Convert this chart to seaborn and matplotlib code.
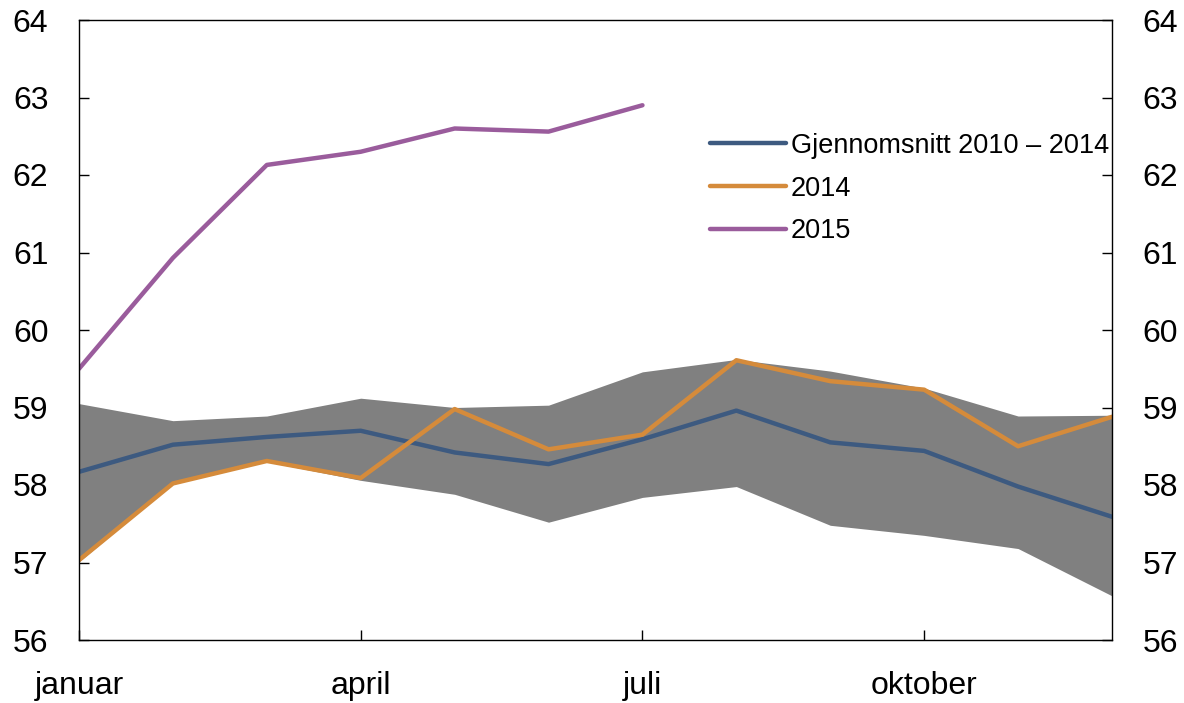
import numpy as np
import pandas as pd
import seaborn as sns
import matplotlib.pyplot as plt

months = np.arange(1, 13)
month_ticks = [1, 4, 7, 10]
month_labels = ['januar', 'april', 'juli', 'oktober']

# average 2010-2014 and the min/max band
avg_10_14 = [58.17, 58.52, 58.62, 58.70, 58.42, 58.27, 58.59, 58.96, 58.55, 58.44, 57.98, 57.59]
band_high = [59.05, 58.83, 58.89, 59.12, 59.00, 59.03, 59.46, 59.62, 59.47, 59.25, 58.89, 58.90]
band_low = [57.01, 58.02, 58.30, 58.06, 57.88, 57.52, 57.84, 57.98, 57.48, 57.35, 57.18, 56.57]
y2014 = [57.03, 58.02, 58.31, 58.09, 58.98, 58.46, 58.65, 59.61, 59.34, 59.23, 58.50, 58.88]
y2015 = [59.50, 60.93, 62.13, 62.30, 62.60, 62.56, 62.90]

sns.set_style('white')
plt.rcParams['font.family'] = ['Liberation Sans', 'DejaVu Sans']
plt.rcParams.update({'text.color': 'black', 'xtick.color': 'black',
                     'ytick.color': 'black', 'axes.edgecolor': 'black'})

fig = plt.figure(figsize=(11.84, 7.03), dpi=100)
ax = fig.add_axes([79/1184, 1-640/703, 1033/1184, 620/703])

ax.fill_between(months, band_low, band_high, color='#808080', linewidth=0)

df = pd.DataFrame({'mnd': months, 'avg': avg_10_14, 'y14': y2014})
df15 = pd.DataFrame({'mnd': months[:len(y2015)], 'y15': y2015})
sns.lineplot(data=df, x='mnd', y='avg', color='#3d5a80', lw=3.2, ax=ax,
             label='Gjennomsnitt 2010 \u2013 2014')
sns.lineplot(data=df, x='mnd', y='y14', color='#d58b3b', lw=3.2, ax=ax,
             label='2014')
sns.lineplot(data=df15, x='mnd', y='y15', color='#9a5c9c', lw=3.2, ax=ax,
             label='2015')

ax.set_xlim(1, 12)
ax.set_ylim(56, 64)
ax.set_yticks(range(56, 65))
ax.set_xticks(month_ticks)
ax.set_xticklabels(month_labels)
ax.set_xlabel('')
ax.set_ylabel('')
ax.tick_params(axis='y', direction='in', length=7.5, width=1,
               left=True, right=True, labelleft=True, labelright=True,
               labelsize=23, pad=22, labelcolor='black')
ax.tick_params(axis='x', direction='in', length=7.5, width=1,
               bottom=True, labelsize=23, pad=22, labelcolor='black')
for sp in ax.spines.values():
    sp.set_color('black')
    sp.set_linewidth(1)

leg = ax.legend(loc='upper left', bbox_to_anchor=(0.611, 0.818), frameon=False,
                borderpad=0, borderaxespad=0, handlelength=2.8, handletextpad=0.18,
                labelspacing=0.62, fontsize=19.5)
for t in leg.get_texts():
    t.set_color('black')

fig.savefig('out.png', dpi=100)
